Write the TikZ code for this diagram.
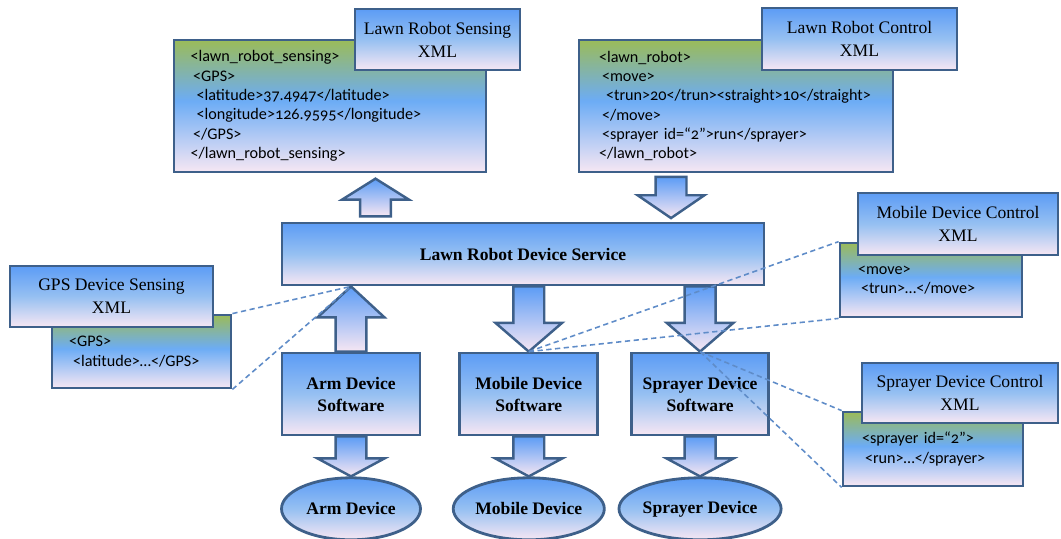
\documentclass[tikz,border=0pt]{standalone}
\usepackage{fontspec}
\setmainfont{Liberation Serif}
\newfontfamily\xmlfont[Numbers=OldStyle]{Carlito}
\usetikzlibrary{positioning,calc,shapes.geometric}

\definecolor{edgeblue}{RGB}{62,96,138}
\definecolor{topblue}{RGB}{92,156,245}
\definecolor{midblue}{RGB}{150,192,242}
\definecolor{bodyblue}{RGB}{108,172,245}
\definecolor{botpink}{RGB}{247,231,243}
\definecolor{topgreen}{RGB}{155,187,89}
\definecolor{dashblue}{RGB}{95,140,200}

\pgfdeclareverticalshading{xmlshade}{100bp}{color(0bp)=(botpink); color(25bp)=(botpink); color(52bp)=(bodyblue); color(75bp)=(topgreen); color(100bp)=(topgreen)}

\tikzset
{
  titlebox/.style   = {draw=edgeblue, line width=1.6pt, top color=topblue, bottom color=botpink, middle color=midblue, align=center, inner sep=0pt, font=\fontsize{10}{13}\selectfont},
  xmlbody/.style    = {draw=edgeblue, line width=1.6pt, shade, shading=xmlshade, align=left, inner ysep=0pt, font=\xmlfont\fontsize{9.2}{11}\selectfont},
  devbox/.style     = {draw=edgeblue, line width=1.6pt, top color=topblue, bottom color=botpink, middle color=midblue, align=center, inner sep=0pt, font=\bfseries\fontsize{10}{12.5}\selectfont},
  swbox/.style      = {devbox, minimum width=2.76cm, minimum height=1.64cm},
  devellipse/.style = {devbox, ellipse, minimum width=2.78cm, minimum height=1.24cm},
  blockarrow/.style = {draw=edgeblue, line width=1.4pt, top color=topblue, bottom color=botpink},
  xmllink/.style    = {draw=dashblue, line width=0.9pt, dash pattern=on 3pt off 2pt}
}

% fat arrow: [gap]{from}{to}{head length}
\newcommand{\blockarrow}[4][0pt]{%
  \coordinate (ba-s) at ($(#2)!#1!(#3)$);
  \coordinate (ba-t) at ($(#3)!#1!(#2)$);
  \coordinate (ba-b) at ($(ba-t)!#4!(ba-s)$);
  \draw[blockarrow] ($(ba-s)!8.8pt!90:(ba-t)$) -- ($(ba-b)!8.8pt!90:(ba-t)$) -- ($(ba-b)!19pt!90:(ba-t)$)
    -- (ba-t) -- ($(ba-b)!19pt!-90:(ba-t)$) -- ($(ba-b)!8.8pt!-90:(ba-t)$) -- ($(ba-s)!8.8pt!-90:(ba-t)$) -- cycle;
}

\begin{document}
\begin{tikzpicture}[x=0.02cm, y=-0.02cm]
  \useasboundingbox (0,0) rectangle (1061,538);

  % robot level messages
  \node [xmlbody, minimum height=2.64cm, text width=5.58cm, inner xsep=0.33cm] (senseBody) at (330,106)
    {<lawn\_robot\_sensing>\\
     \hspace*{1.5pt}<GPS>\\
     \hspace*{3.4pt}<latitude>37.4947</latitude>\\
     \hspace*{3.4pt}<longitude>126.9595</longitude>\\
     \hspace*{1.5pt}</GPS>\\
     </lawn\_robot\_sensing>};
  \node [titlebox, minimum width=3.3cm, minimum height=1.22cm] (senseTitle) at (437.5,39.5) {Lawn Robot Sensing\\XML};

  \node [xmlbody, minimum height=2.64cm, text width=5.48cm, inner xsep=0.4cm] (ctrlBody) at (736,106)
    {<lawn\_robot>\\
     \hspace*{1.7pt}<move>\\
     \hspace*{4pt}<trun>20</trun><straight>10</straight>\\
     \hspace*{1.7pt}</move>\\
     \hspace*{1.7pt}<sprayer id=“2”>run</sprayer>\\
     </lawn\_robot>};
  \node [titlebox, minimum width=3.9cm, minimum height=1.24cm] (ctrlTitle) at (859.5,39) {Lawn Robot Control\\XML};

  % service and devices
  \node [devbox, minimum width=9.64cm, minimum height=1.24cm] (service) at (523,254) {Lawn Robot Device Service};

  \node [swbox] (armSw) at (351,394) {Arm Device\\Software};
  \node [swbox, right=0.74cm of armSw] (mobSw) {Mobile Device\\Software};
  \node [swbox, right=0.62cm of mobSw, minimum width=2.74cm] (spraySw) {Sprayer Device\\Software};

  \node [devellipse, below=0.8cm of armSw] (armDev) {Arm Device};
  \node [devellipse, below=0.8cm of mobSw] (mobDev) {Mobile Device};
  \node [devellipse, below=0.8cm of spraySw] (sprayDev) {Sprayer Device};

  \coordinate (senseX) at ([xshift=0.91cm]senseBody.south);
  \coordinate (ctrlX) at ([xshift=-1.3cm]ctrlBody.south);
  \coordinate (armTip) at (armSw.north |- service.south);

  \blockarrow[3pt]{service.north -| senseX}{senseBody.south -| senseX}{11.9pt}
  \blockarrow[2pt]{ctrlBody.south -| ctrlX}{service.north -| ctrlX}{13pt}
  \blockarrow{armSw.north}{armTip}{17.6pt}
  \blockarrow{service.south -| mobSw.north}{mobSw.north}{16.4pt}
  \blockarrow{service.south -| spraySw.north}{spraySw.north}{16.4pt}
  \blockarrow{armSw.south}{armSw.south |- armDev.north}{10.2pt}
  \blockarrow{mobSw.south}{mobSw.south |- mobDev.north}{10.2pt}
  \blockarrow{spraySw.south}{spraySw.south |- sprayDev.north}{10.2pt}

  % device level messages
  \node [xmlbody, minimum height=1.46cm, text width=2.9cm, inner xsep=0.34cm] (gpsBody) at (141.5,351.5)
    {<GPS>\\
     \hspace*{2.3pt}<latitude>…</GPS>};
  \node [titlebox, minimum width=4.06cm, minimum height=1.22cm] (gpsTitle) at (111.5,296.5) {GPS Device Sensing\\XML};

  \node [xmlbody, minimum height=1.48cm, text width=2.92cm, inner xsep=0.36cm] (mobCtrlBody) at (931,280)
    {<move>\\
     \hspace*{1.7pt}<trun>…</move>};
  \node [titlebox, minimum width=4cm, minimum height=1.24cm] (mobCtrlTitle) at (958,224) {Mobile Device Control\\XML};

  \node [xmlbody, minimum height=1.48cm, text width=2.84cm, inner xsep=0.38cm] (sprCtrlBody) at (933,449)
    {<sprayer id=“2”>\\
     \hspace*{1.7pt}<run>…</sprayer>};
  \node [titlebox, minimum width=3.92cm, minimum height=1.2cm] (sprCtrlTitle) at (960,393) {Sprayer Device Control\\XML};

  \draw [xmllink] (gpsBody.north east) -- (armTip);
  \draw [xmllink] (gpsBody.south east) -- (armTip);
  \draw [xmllink] (mobSw.north) -- (mobCtrlBody.north west);
  \draw [xmllink] (mobSw.north) -- (mobCtrlBody.south west);
  \draw [xmllink] (spraySw.north) -- (sprCtrlBody.north west);
  \draw [xmllink] (spraySw.north) -- (sprCtrlBody.south west);
\end{tikzpicture}
\end{document}
